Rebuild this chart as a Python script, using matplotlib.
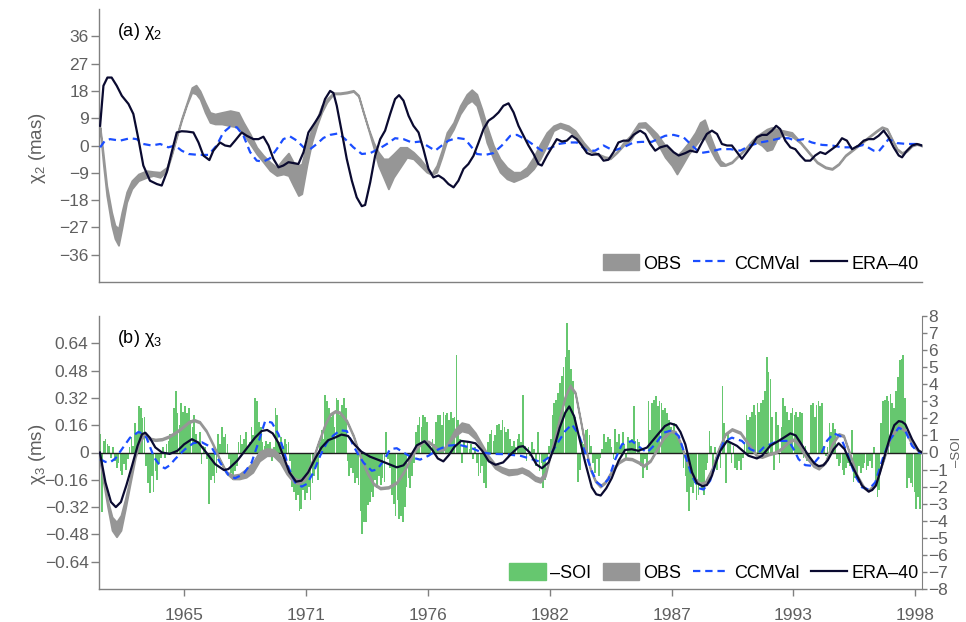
import numpy as np
import matplotlib
matplotlib.use("Agg")
import matplotlib.pyplot as plt
from matplotlib.patches import Patch
from matplotlib.lines import Line2D
from matplotlib.ticker import FuncFormatter

plt.rcParams['font.family'] = ['Liberation Sans', 'DejaVu Sans']
plt.rcParams['mathtext.fontset'] = 'custom'
plt.rcParams['mathtext.rm'] = 'Liberation Sans'

# ---------------- data: panel (a) chi2 (mas) ----------------
era_a = [(1961.21,6.5),(1961.36,19.7),(1961.54,22.4),(1961.73,22.4),(1961.96,19.7),(1962.19,16.4),
         (1962.49,13.7),(1962.71,10.4),(1962.94,2.1),(1963.16,-6.6),(1963.46,-11.6),(1963.77,-12.7),
         (1963.99,-13.2),(1964.22,-8.8),(1964.44,-2.2),(1964.67,4.3),(1964.89,4.7),(1965.12,4.6),
         (1965.42,4.3),(1965.65,1.0),(1965.87,-3.3),(1966.14,-4.8),(1966.32,-1.7),(1966.62,1.0),
         (1966.85,0.0),(1967.08,-0.3),(1967.3,1.6),(1967.6,4.3),(1967.83,3.2),(1968.13,2.1),
         (1968.36,2.1),(1968.58,2.9),(1968.81,0.0),(1969.03,-4.4),(1969.26,-7.2),(1969.48,-6.6),
         (1969.71,-5.5),(1969.93,-5.8),(1970.16,-6.1),(1970.39,-2.2),(1970.61,4.3),(1970.91,7.6),
         (1971.14,10.3),(1971.36,15.3),(1971.59,18.0),(1971.74,17.3),(1971.89,13.1),(1972.12,4.3),
         (1972.34,-4.4),(1972.57,-11.6),(1972.79,-17.1),(1973.02,-20.0),(1973.17,-19.6),(1973.4,-12.1),
         (1973.62,-3.4),(1973.85,2.1),(1974.07,4.9),(1974.3,10.4),(1974.52,15.3),(1974.7,16.6),
         (1974.9,14.8),(1975.13,9.8),(1975.35,6.5),(1975.58,4.3),(1975.8,-1.2),(1976.03,-7.7),
         (1976.25,-10.5),(1976.48,-9.9),(1976.71,-11.0),(1976.93,-12.7),(1977.16,-13.8),(1977.38,-11.6),
         (1977.61,-7.7),(1977.83,-6.1),(1978.06,-3.4),(1978.29,1.0),(1978.51,5.4),(1978.74,8.2),
         (1978.96,9.3),(1979.19,10.9),(1979.41,13.1),(1979.64,13.9),(1979.87,10.9),(1980.09,6.5),
         (1980.32,3.2),(1980.54,0.0),(1980.77,-2.8),(1980.99,-6.1),(1981.14,-6.6),(1981.37,-3.4),
         (1981.6,-0.6),(1981.82,2.1),(1982.05,1.3),(1982.27,1.6),(1982.5,3.2),(1982.72,2.1),
         (1982.95,0.0),(1983.18,-2.5),(1983.4,-3.1),(1983.7,-2.8),(1983.93,-5.0),(1984.15,-4.7),
         (1984.38,-2.2),(1984.6,1.0),(1984.83,1.6),(1985.06,1.6),(1985.28,3.5),(1985.58,4.9),
         (1985.81,3.8),(1986.04,0.5),(1986.26,-1.7),(1986.49,-0.6),(1986.79,0.0),(1987.09,-2.2),
         (1987.32,-3.3),(1987.62,-2.5),(1987.84,-1.7),(1988.14,-2.2),(1988.37,1.0),(1988.59,3.8),
         (1988.82,4.9),(1989.05,3.8),(1989.27,0.5),(1989.5,0.0),(1989.72,0.0),(1989.95,-2.2),
         (1990.17,-4.4),(1990.4,-2.2),(1990.62,0.0),(1990.85,2.7),(1991.08,3.5),(1991.3,3.5),
         (1991.53,4.9),(1991.72,6.5),(1991.9,5.4),(1992.13,1.6),(1992.36,-0.6),(1992.58,-1.2),
         (1992.81,-3.3),(1993.03,-5.0),(1993.26,-5.0),(1993.48,-3.3),(1993.71,-2.2),(1993.94,-2.8),
         (1994.24,-1.2),(1994.46,0.0),(1994.69,2.4),(1994.91,1.6),(1995.14,-1.2),(1995.44,0.0),
         (1995.67,1.6),(1995.89,2.1),(1996.12,2.1),(1996.34,3.2),(1996.57,4.9),(1996.79,2.7),
         (1997.02,-0.6),(1997.25,-3.3),(1997.4,-3.9),(1997.62,-1.7),(1997.85,0.0),(1998.07,0.5),
         (1998.3,0.0)]

ccm_a = [(1961.21,-0.6),(1961.43,1.6),(1961.66,2.1),(1962.11,1.6),(1962.56,2.4),(1962.86,2.1),
         (1963.16,0.5),(1963.54,0.0),(1963.92,0.5),(1964.29,-0.6),(1964.59,0.0),(1964.89,-1.7),
         (1965.2,-2.8),(1965.65,-3.1),(1966.1,-3.1),(1966.47,0.0),(1966.77,4.3),(1967.08,6.2),
         (1967.38,6.0),(1967.68,3.2),(1967.98,-2.2),(1968.28,-5.0),(1968.58,-5.3),(1968.88,-4.2),
         (1969.18,-1.2),(1969.48,2.1),(1969.78,3.0),(1970.09,1.6),(1970.39,-0.6),(1970.69,-1.2),
         (1970.99,0.5),(1971.29,2.5),(1971.59,3.5),(1971.97,4.0),(1972.27,2.1),(1972.64,-0.6),
         (1973.02,-2.8),(1973.4,-2.5),(1973.77,-1.2),(1974.15,0.5),(1974.52,2.4),(1974.9,2.1),
         (1975.28,1.0),(1975.65,1.3),(1975.95,0.0),(1976.33,-1.7),(1976.63,0.0),(1976.93,1.6),
         (1977.31,2.5),(1977.68,2.1),(1977.98,-0.6),(1978.21,-2.8),(1978.59,-3.1),(1978.96,-2.5),
         (1979.34,0.0),(1979.72,3.2),(1980.02,3.5),(1980.39,2.1),(1980.77,0.2),(1981.14,-1.7),
         (1981.52,-0.9),(1981.9,0.5),(1982.35,1.0),(1982.72,1.0),(1983.18,-1.7),(1983.55,-1.7),
         (1983.93,0.0),(1984.38,-1.7),(1984.83,-0.6),(1985.28,1.0),(1985.66,1.2),(1986.1,1.2),
         (1986.71,3.2),(1987.09,3.5),(1987.54,2.7),(1987.92,0.0),(1988.29,-2.5),(1988.74,-2.0),
         (1989.2,-1.2),(1989.65,-1.2),(1990.1,-1.7),(1990.55,0.0),(1991.0,1.0),(1991.45,1.6),
         (1991.9,2.4),(1992.28,2.4),(1992.58,1.6),(1992.96,2.1),(1993.33,1.0),(1993.79,0.2),
         (1994.24,0.0),(1994.69,-0.6),(1995.21,-0.6),(1995.67,0.2),(1996.12,-1.7),(1996.34,-2.0),
         (1996.57,0.0),(1996.79,2.1),(1997.17,0.8),(1997.62,0.5),(1998.07,0.5),(1998.3,0.0)]

# OBS band: (time, upper, lower)
obs_a = [(1961.21,6.0,5.0),(1961.36,-3.3,-6.6),(1961.51,-13.2,-16.5),(1961.73,-22.0,-26.3),
         (1961.88,-26.3,-30.7),(1962.04,-27.4,-32.9),(1962.19,-22.0,-27.4),(1962.41,-15.3,-18.7),
         (1962.64,-11.6,-14.3),(1962.94,-9.4,-11.6),(1963.31,-8.3,-10.5),(1963.61,-8.6,-9.9),
         (1963.92,-8.8,-10.5),(1964.22,-7.2,-8.3),(1964.44,-2.5,-3.1),(1964.67,3.5,2.9),
         (1964.89,9.0,8.4),(1965.12,14.0,13.4),(1965.35,19.1,17.5),(1965.54,19.9,17.0),
         (1965.72,18.0,15.3),(1965.95,14.2,10.9),(1966.17,10.9,7.6),(1966.4,10.4,7.1),
         (1966.7,10.9,7.1),(1967.08,11.5,6.5),(1967.45,10.9,6.0),(1967.68,7.6,3.8),
         (1967.98,3.8,0.5),(1968.28,-0.6,-2.8),(1968.58,-3.3,-5.5),(1968.88,-5.5,-8.3),
         (1969.18,-7.2,-9.9),(1969.48,-4.4,-9.4),(1969.71,-2.5,-9.9),(1969.93,-5.5,-13.2),
         (1970.16,-6.6,-16.5),(1970.31,-6.1,-15.9),(1970.54,1.0,-6.6),(1970.76,5.4,1.0),
         (1970.99,8.7,6.5),(1971.21,13.1,10.9),(1971.44,15.3,14.2),(1971.74,17.4,17.0),
         (1972.04,17.4,17.0),(1972.34,17.7,17.3),(1972.64,18.2,17.8),(1972.87,16.6,16.2),
         (1973.09,11.1,10.7),(1973.32,5.6,5.2),(1973.55,1.0,-0.6),(1973.77,-2.2,-6.6),
         (1974.0,-4.4,-10.5),(1974.22,-4.4,-14.3),(1974.45,-2.8,-10.5),(1974.75,-0.6,-7.2),
         (1975.05,-0.6,-3.9),(1975.35,-2.2,-4.4),(1975.65,-4.4,-6.6),(1975.95,-7.2,-8.8),
         (1976.18,-9.2,-9.6),(1976.4,-6.6,-8.8),(1976.63,-1.7,-3.9),(1976.86,4.3,1.6),
         (1977.16,7.6,5.4),(1977.46,13.1,10.4),(1977.76,16.9,13.7),(1977.98,18.4,14.8),
         (1978.21,16.9,13.1),(1978.44,12.0,7.6),(1978.66,6.5,1.0),(1978.96,0.0,-4.4),
         (1979.26,-4.4,-8.8),(1979.57,-7.2,-11.0),(1979.87,-8.8,-11.9),(1980.17,-8.8,-11.0),
         (1980.47,-7.2,-9.9),(1980.77,-3.9,-7.7),(1981.07,0.5,-4.4),(1981.37,4.3,0.0),
         (1981.67,6.5,4.9),(1981.97,7.4,6.0),(1982.35,6.5,4.9),(1982.65,4.9,3.2),
         (1983.03,1.0,-0.6),(1983.33,-1.5,-1.9),(1983.63,-2.6,-3.0),(1984.0,-3.7,-4.1),
         (1984.23,-4.0,-4.4),(1984.53,-2.0,-2.4),(1984.83,1.0,0.0),(1985.13,3.2,1.6),
         (1985.51,7.4,6.0),(1985.81,7.6,6.0),(1986.04,6.0,4.0),(1986.34,3.8,1.0),
         (1986.71,0.0,-3.9),(1987.01,-2.2,-6.6),(1987.24,-3.3,-9.4),(1987.47,-1.7,-6.6),
         (1987.77,1.0,-2.8),(1988.07,4.3,0.0),(1988.29,7.6,2.1),(1988.49,8.5,2.7),
         (1988.74,3.2,-1.2),(1988.97,-1.2,-4.4),(1989.2,-5.0,-6.6),(1989.42,-6.2,-6.6),
         (1989.72,-5.3,-5.7),(1990.02,-3.1,-3.5),(1990.32,-1.0,-1.4),(1990.62,1.6,0.5),
         (1990.85,3.2,1.0),(1991.08,4.3,0.0),(1991.3,5.4,-1.7),(1991.53,6.0,-1.2),
         (1991.75,5.4,2.1),(1992.06,4.9,3.8),(1992.43,4.3,3.0),(1992.81,1.2,0.8),
         (1993.18,-2.0,-2.4),(1993.56,-5.3,-5.7),(1993.94,-7.0,-7.4),(1994.24,-7.5,-7.9),
         (1994.54,-5.9,-6.3),(1994.84,-3.1,-3.5),(1995.21,-1.0,-1.4),(1995.59,1.2,0.8),
         (1995.97,3.4,3.0),(1996.27,5.1,4.7),(1996.49,6.2,5.8),(1996.72,5.6,5.2),
         (1996.94,2.3,1.9),(1997.17,-1.0,-1.4),(1997.4,-2.3,-2.7),(1997.62,-1.5,-1.9),
         (1997.85,0.2,-0.2),(1998.07,0.7,0.3),(1998.3,0.2,-0.2)]

# ---------------- data: panel (b) chi3 (ms) ----------------
era_b = [(1961.2,0.0),(1961.45,-0.175),(1961.7,-0.29),(1961.92,-0.32),(1962.15,-0.29),(1962.4,-0.19),
         (1962.65,-0.078),(1962.9,0.039),(1963.1,0.107),(1963.25,0.116),(1963.45,0.087),(1963.7,0.03),
         (1964.0,0.0),(1964.35,-0.008),(1964.7,0.01),(1965.0,0.048),(1965.35,0.078),(1965.65,0.058),
         (1966.0,0.0),(1966.4,-0.068),(1966.8,-0.103),(1967.0,-0.097),(1967.4,-0.048),(1967.8,0.019),
         (1968.2,0.087),(1968.5,0.126),(1968.75,0.132),(1969.0,0.112),(1969.25,0.058),(1969.5,-0.029),
         (1969.75,-0.116),(1970.05,-0.171),(1970.3,-0.165),(1970.6,-0.116),(1970.9,-0.039),(1971.2,0.029),
         (1971.5,0.072),(1971.8,0.087),(1972.1,0.105),(1972.4,0.097),(1972.7,0.045),(1973.0,0.005),
         (1973.4,-0.025),(1973.8,-0.045),(1974.2,-0.066),(1974.6,-0.087),(1974.9,-0.075),(1975.2,-0.025),
         (1975.5,0.042),(1975.85,0.066),(1976.2,0.015),(1976.45,-0.035),(1976.7,-0.052),(1976.95,-0.015),
         (1977.2,0.033),(1977.5,0.068),(1977.85,0.062),(1978.15,0.054),(1978.45,0.01),(1978.75,-0.052),
         (1979.05,-0.072),(1979.4,-0.058),(1979.75,-0.01),(1980.1,0.033),(1980.3,0.037),(1980.6,0.0),
         (1980.9,-0.07),(1981.15,-0.092),(1981.45,-0.058),(1981.7,0.029),(1981.95,0.145),(1982.2,0.233),
         (1982.38,0.27),(1982.6,0.213),(1982.85,0.078),(1983.1,-0.058),(1983.4,-0.204),(1983.6,-0.245),
         (1983.8,-0.252),(1984.05,-0.21),(1984.3,-0.15),(1984.6,-0.05),(1984.9,0.015),(1985.2,0.019),
         (1985.5,0.01),(1985.89,0.029),(1986.34,0.1),(1986.7,0.155),(1986.94,0.171),(1987.2,0.16),
         (1987.4,0.12),(1987.62,0.048),(1987.92,-0.116),(1988.15,-0.18),(1988.4,-0.198),(1988.6,-0.19),
         (1988.82,-0.136),(1989.0,-0.06),(1989.2,0.01),(1989.5,0.068),(1989.95,0.039),(1990.47,-0.019),
         (1990.85,-0.035),(1991.08,-0.019),(1991.45,0.039),(1991.83,0.068),(1992.1,0.09),(1992.36,0.112),
         (1992.6,0.1),(1992.8,0.06),(1993.18,-0.019),(1993.45,-0.065),(1993.64,-0.08),(1993.85,-0.075),
         (1994.05,-0.045),(1994.31,0.019),(1994.54,0.054),(1994.81,0.019),(1995.0,-0.04),(1995.22,-0.097),
         (1995.59,-0.194),(1995.89,-0.229),(1996.05,-0.22),(1996.22,-0.194),(1996.4,-0.12),(1996.57,-0.039),
         (1996.87,0.097),(1997.05,0.16),(1997.25,0.184),(1997.4,0.18),(1997.55,0.165),(1997.85,0.078),
         (1998.15,0.01),(1998.3,0.0)]

ccm_b = [(1961.2,-0.039),(1961.45,-0.055),(1961.66,-0.058),(1961.9,-0.035),(1962.19,0.019),(1962.56,0.087),
         (1962.94,0.12),(1963.15,0.11),(1963.31,0.085),(1963.5,0.02),(1963.65,-0.03),(1963.92,-0.078),
         (1964.14,-0.093),(1964.35,-0.075),(1964.59,-0.039),(1965.04,0.019),(1965.42,0.055),(1965.8,0.06),
         (1966.25,0.029),(1966.62,-0.058),(1967.0,-0.132),(1967.3,-0.151),(1967.68,-0.126),(1968.05,-0.058),
         (1968.35,0.058),(1968.66,0.185),(1968.96,0.175),(1969.26,0.107),(1969.48,0.019),(1969.71,-0.087),
         (1970.01,-0.175),(1970.31,-0.2),(1970.54,-0.184),(1970.84,-0.116),(1971.14,-0.019),(1971.44,0.058),
         (1971.74,0.1),(1972.04,0.13),(1972.34,0.126),(1972.64,0.04),(1972.85,-0.01),(1973.1,-0.06),
         (1973.47,-0.107),(1973.7,-0.1),(1974.0,-0.05),(1974.3,0.02),(1974.6,0.025),(1974.9,0.0),
         (1975.28,-0.029),(1975.65,-0.042),(1976.03,-0.019),(1976.48,0.019),(1976.9,0.04),(1977.4,0.045),
         (1977.9,0.03),(1978.44,0.0),(1978.9,-0.008),(1979.5,-0.01),(1980.2,-0.02),(1980.84,-0.045),
         (1981.14,-0.058),(1981.45,-0.029),(1981.82,0.048),(1982.2,0.126),(1982.5,0.165),(1982.8,0.107),
         (1983.1,0.0),(1983.4,-0.11),(1983.63,-0.175),(1983.85,-0.196),(1984.16,-0.155),(1984.46,-0.039),
         (1984.76,0.048),(1985.21,0.068),(1985.58,0.029),(1985.89,0.0),(1986.26,0.048),(1986.64,0.116),
         (1987.01,0.13),(1987.32,0.097),(1987.62,-0.019),(1987.92,-0.136),(1988.22,-0.209),(1988.44,-0.217),
         (1988.74,-0.165),(1989.05,-0.039),(1989.35,0.062),(1989.72,0.087),(1990.17,0.068),(1990.55,0.019),
         (1990.93,0.0),(1991.15,0.029),(1991.45,0.048),(1991.83,0.068),(1992.28,0.068),(1992.51,0.019),
         (1992.73,-0.039),(1993.03,-0.074),(1993.33,-0.078),(1993.71,-0.019),(1994.01,0.068),(1994.31,0.112),
         (1994.61,0.097),(1994.91,0.0),(1995.29,-0.136),(1995.59,-0.204),(1995.89,-0.217),(1996.19,-0.175),
         (1996.57,-0.019),(1996.87,0.078),(1997.25,0.145),(1997.55,0.126),(1997.85,0.039),(1998.15,0.0),
         (1998.3,0.0)]

obs_b = [(1961.16,0.0,-0.02),(1961.35,-0.14,-0.17),(1961.55,-0.28,-0.32),(1961.75,-0.378,-0.456),
         (1961.95,-0.407,-0.494),(1962.15,-0.368,-0.456),(1962.35,-0.27,-0.33),(1962.55,-0.155,-0.194),
         (1962.8,0.0,-0.029),(1963.0,0.078,0.058),(1963.2,0.11,0.1),(1963.45,0.086,0.076),
         (1963.7,0.079,0.069),(1964.0,0.083,0.073),(1964.3,0.098,0.088),(1964.6,0.121,0.111),
         (1964.9,0.15,0.14),(1965.2,0.183,0.173),(1965.45,0.195,0.185),(1965.7,0.183,0.173),
         (1966.0,0.131,0.121),(1966.3,0.053,0.043),(1966.6,-0.034,-0.044),(1966.9,-0.111,-0.121),
         (1967.2,-0.132,-0.155),(1967.5,-0.126,-0.155),(1967.8,-0.097,-0.145),(1968.1,-0.058,-0.116),
         (1968.4,0.005,-0.05),(1968.73,0.023,-0.019),(1969.03,0.019,-0.019),(1969.33,-0.019,-0.058),
         (1969.63,-0.087,-0.126),(1969.94,-0.145,-0.175),(1970.16,-0.159,-0.184),(1970.46,-0.136,-0.159),
         (1970.76,-0.053,-0.063),(1971.06,0.063,0.053),(1971.36,0.17,0.16),(1971.59,0.228,0.218),
         (1971.82,0.247,0.237),(1972.04,0.238,0.228),(1972.34,0.189,0.179),(1972.64,0.102,0.092),
         (1972.94,-0.014,-0.024),(1973.25,-0.111,-0.121),(1973.55,-0.179,-0.189),(1973.85,-0.204,-0.214),
         (1974.22,-0.199,-0.209),(1974.6,-0.17,-0.18),(1974.9,-0.111,-0.121),(1975.2,-0.034,-0.044),
         (1975.5,0.034,0.024),(1975.8,0.071,0.061),(1976.03,0.067,0.057),(1976.18,0.053,0.043),
         (1976.48,0.02,0.01),(1976.71,0.024,0.014),(1976.93,0.063,0.053),(1977.23,0.136,0.097),
         (1977.53,0.175,0.126),(1977.83,0.165,0.116),(1978.14,0.116,0.081),(1978.44,0.048,0.023),
         (1978.74,-0.019,-0.043),(1979.04,-0.068,-0.093),(1979.34,-0.087,-0.116),(1979.64,-0.1,-0.132),
         (1980.02,-0.097,-0.126),(1980.24,-0.089,-0.116),(1980.54,-0.107,-0.136),(1980.84,-0.14,-0.165),
         (1981.07,-0.151,-0.175),(1981.3,-0.116,-0.14),(1981.52,-0.014,-0.024),(1981.75,0.102,0.092),
         (1981.97,0.218,0.208),(1982.2,0.335,0.325),(1982.42,0.397,0.387),(1982.65,0.354,0.344),
         (1982.88,0.199,0.189),(1983.1,0.044,0.034),(1983.33,-0.092,-0.102),(1983.55,-0.16,-0.17),
         (1983.78,-0.193,-0.203),(1984.0,-0.17,-0.18),(1984.31,-0.102,-0.112),(1984.61,-0.053,-0.063),
         (1984.91,-0.03,-0.04),(1985.21,-0.034,-0.044),(1985.51,-0.053,-0.063),(1985.74,-0.073,-0.083),
         (1986.04,-0.043,-0.053),(1986.34,0.024,0.014),(1986.64,0.092,0.082),(1986.94,0.131,0.121),
         (1987.17,0.125,0.115),(1987.39,0.063,0.053),(1987.69,-0.053,-0.063),(1987.99,-0.14,-0.15),
         (1988.29,-0.179,-0.189),(1988.52,-0.17,-0.18),(1988.82,-0.092,-0.102),(1989.12,0.024,0.014),
         (1989.42,0.112,0.102),(1989.72,0.141,0.131),(1990.1,0.121,0.111),(1990.47,0.053,0.043),
         (1990.85,-0.015,-0.025),(1991.08,-0.02,-0.03),(1991.38,-0.005,-0.015),(1991.68,0.005,-0.005),
         (1991.98,0.03,0.02),(1992.28,0.068,0.058),(1992.51,0.081,0.071),(1992.73,0.053,0.043),
         (1993.03,-0.014,-0.024),(1993.41,-0.073,-0.083),(1993.64,-0.088,-0.098),(1993.94,-0.053,-0.063),
         (1994.24,0.053,0.043),(1994.54,0.112,0.102),(1994.76,0.102,0.092),(1995.07,-0.014,-0.024),
         (1995.37,-0.131,-0.141),(1995.67,-0.199,-0.209),(1995.89,-0.218,-0.228),(1996.19,-0.179,-0.189),
         (1996.57,-0.034,-0.044),(1996.87,0.092,0.082),(1997.25,0.16,0.15),(1997.55,0.131,0.121),
         (1997.85,0.053,0.043),(1998.15,0.015,0.005),(1998.3,0.005,-0.005)]

# -SOI, monthly from 1961.21
soi_start = 1961.208
neg_soi = [
    1.1, -3.5, 0.7, 0.8, 0.5, 0.4, -0.3, 0.3, -0.5, -0.9, -0.6, -1.1,
    -1.3, -0.7, -1.0, -0.4, 0.3, 0.9, 0.4, 1.7, 1.1, 2.7, 2.6, 2.0,
    2.1, -0.8, -1.8, -2.4, -1.4, -2.3, -1.1, -1.6, -0.6, -0.3, 0.3, -0.3,
    0.5, 0.7, 1.1, 1.0, 2.6, 3.6, 2.3, 1.6, 2.9, 2.4, 2.7, 2.3,
    2.6, 1.9, 1.5, 2.2, 1.1, 0.6, 1.2, -0.7, 0.4, 0.3, -0.4, -3.0,
    -1.6, -1.4, -1.8, -1.2, 1.1, 0.5, 1.5, 0.9, 1.1, 0.5, -0.4, -1.2,
    -1.6, -1.1, -0.8, 0.6, 1.0, 0.5, 0.8, 1.2, 0.3, 0.6, 1.5, 1.0,
    3.2, 3.0, 1.8, 1.5, 0.6, 0.4, 0.7, 0.5, 0.6, -0.5, 0.3, 2.6,
    2.2, 0.6, 0.9, 0.4, 0.8, 0.5, 0.6, -0.5, -2.0, -2.3, -2.8, -2.5,
    -3.4, -3.3, -2.2, -2.8, -2.4, -2.0, -2.8, -1.8, -1.4, -0.8, -1.6, 0.6,
    1.3, 0.8, 3.35, 3.0, 2.6, 2.1, 2.4, 1.5, 3.2, 3.1, 2.2, 2.8,
    3.2, 2.6, -0.5, -1.4, -0.9, -1.2, -1.8, -1.5, -1.9, -3.4, -4.8, -4.1,
    -4.1, -3.1, -2.9, -2.3, -2.6, -1.6, -2.1, -1.4, -1.9, -1.5, -1.7, 1.2,
    -0.4, -0.9, -2.5, -3.0, -3.7, -2.8, -3.9, -3.7, -4.1, -3.2, -2.0, -1.5,
    -2.1, -1.4, -0.6, 1.2, 1.6, 2.1, 1.5, 2.2, 2.1, 1.8, 0.6, 0.4,
    0.8, 0.5, 1.8, 2.2, 2.2, 1.6, 2.4, 2.2, 2.3, 1.9, 2.4, 2.0,
    2.1, 5.7, 1.9, 0.8, -0.6, 0.6, 0.4, 0.7, 0.2, 0.5, -0.4, 0.3,
    -0.6, -1.4, -1.2, -0.8, -1.8, -2.1, 0.6, 1.1, 1.3, 0.7, 1.0, 1.6,
    1.65, 1.3, 1.9, 1.5, 1.2, 1.4, 0.8, 0.4, 0.7, 0.3, 0.8, 1.1,
    0.6, 3.35, 0.4, -0.5, 0.3, -0.2, 0.6, 0.2, -0.8, 1.2, -1.1, -0.6,
    -2.1, -1.6, -0.3, 0.4, 0.8, 2.2, 2.9, 3.1, 3.5, 4.1, 4.5, 5.0,
    5.6, 7.6, 6.0, 4.9, 4.2, 2.1, 1.2, -1.7, -1.0, 0.6, 0.5, 1.3,
    1.35, 1.0, 0.4, -0.6, -1.2, -0.4, -1.4, -0.3, 0.2, 1.07, 0.6, 0.9,
    0.8, 0.3, -0.4, 1.35, 0.6, 1.1, 0.3, 1.2, 0.5, -0.3, 0.9, 0.6,
    0.8, 2.7, 0.7, 0.8, 0.6, -0.8, -1.5, -0.4, -1.0, 3.0, 1.3, 2.9,
    3.1, 3.3, 2.7, 3.0, 2.9, 2.5, 2.6, 2.3, 1.9, 1.5, 1.3, 1.7,
    1.2, 0.9, 0.6, 0.2, -0.9, -1.4, -2.3, -3.4, -2.0, -2.4, -1.8, -2.8,
    -2.5, -1.7, -2.2, -2.5, -1.0, -0.6, 1.26, 0.4, -0.8, 0.3, -1.0, 0.2,
    -0.9, 3.9, 1.7, -1.8, 1.2, 0.6, -0.6, 0.4, -0.9, -1.0, -0.5, -1.0,
    -0.3, 0.6, 2.2, 1.9, 2.1, 2.4, 2.8, 2.2, 2.9, 2.4, 2.9, 3.1,
    3.6, 5.6, 4.7, 4.3, 2.1, -1.0, 2.4, 1.6, -0.6, 1.5, 3.2, 2.7,
    2.4, 1.9, 2.3, 2.6, 2.2, 2.4, 2.1, 2.4, 2.3, -0.3, 0.4, -0.5,
    -0.4, 2.8, 2.9, 2.1, 2.8, 3.0, 2.7, 2.9, 0.4, -0.2, 0.3, 1.7,
    1.2, 1.7, 1.4, -0.4, -0.8, -0.6, -1.0, -1.3, -0.9, -0.6, -0.8, 1.3,
    -1.7, -1.5, -1.2, -0.8, -1.2, -0.9, -0.6, -1.0, -0.8, -0.5, -0.9, 0.3,
    -1.7, -2.6, -2.2, 1.7, 3.0, 3.1, 3.3, 3.0, 3.4, 2.9, 2.6, 3.6,
    4.4, 5.4, 5.5, 5.7, 3.2, -2.1, -1.5, -1.8, -2.0, -2.3, -3.3, -2.6,
    -3.3]

xticks = [1965, 1970.5, 1976, 1981.5, 1987, 1992.5, 1998]
xtick_labels = ['1965', '1971', '1976', '1982', '1987', '1993', '1998']

# ---------------- styles ----------------
C_OBS = '#969696'
C_CCM = '#1a4dff'
C_ERA = '#0a0a30'
C_SOI = '#66c76f'
C_AX = '#808080'
C_TXT = '#5f5f5f'
DASH = (0, (3.3, 2.2))
FS_TICK = 12.5
FS_LEG = 13

fig = plt.figure(figsize=(9.66, 6.22), dpi=100)
W, H = 966.0, 622.0
ax_a = fig.add_axes([99/W, 1-282/H, 823/W, 273/H])
ax_b = fig.add_axes([99/W, 1-589/H, 823/W, 273/H])
XL = (1961.16, 1998.3)

def unzip2(p):
    a = np.array(p)
    return a[:, 0], a[:, 1]

def unzip3(p):
    a = np.array(p)
    return a[:, 0], a[:, 1], a[:, 2]

def style_axis(ax):
    for s in ['top', 'right']:
        ax.spines[s].set_visible(False)
    for s in ['left', 'bottom']:
        ax.spines[s].set_color(C_AX)
        ax.spines[s].set_linewidth(1.0)
    ax.tick_params(axis='y', direction='out', length=6, width=1.0, color=C_AX,
                   labelcolor=C_TXT, labelsize=FS_TICK, pad=1.5)
    ax.set_xlim(*XL)

# ---- panel (a)
style_axis(ax_a)
ax_a.set_ylim(-45, 45)
ax_a.set_yticks(np.arange(-36, 37, 9))
ax_a.tick_params(axis='x', length=0, labelbottom=False)
t, hi, lo = unzip3(obs_a)
ax_a.fill_between(t, lo, hi, facecolor=C_OBS, edgecolor=C_OBS, linewidth=1.3, zorder=2)
t, v = unzip2(ccm_a)
ax_a.plot(t, v, color=C_CCM, lw=1.6, ls=DASH, zorder=3)
t, v = unzip2(era_a)
ax_a.plot(t, v, color=C_ERA, lw=1.6, zorder=4)
ax_a.text(0.022, 0.919, r'(a) χ$\mathregular{_2}$', transform=ax_a.transAxes,
          fontsize=13, va='center', ha='left', color='black')

h_obs = Patch(facecolor=C_OBS, edgecolor=C_OBS)
h_ccm = Line2D([], [], color=C_CCM, lw=1.6, ls=DASH)
h_era = Line2D([], [], color=C_ERA, lw=1.6)
h_soi = Patch(facecolor=C_SOI, edgecolor=C_SOI)
leg_kw = dict(frameon=False, fontsize=FS_LEG, handlelength=2.0, handleheight=1.0,
              handletextpad=0.25, columnspacing=0.65, borderpad=0, borderaxespad=0)
ax_a.legend([h_obs, h_ccm, h_era], ['OBS', 'CCMVal', 'ERA–40'], ncol=3,
            loc='center right', bbox_to_anchor=(0.9964, 0.068), **leg_kw)

# ---- panel (b)
ax2 = ax_b.twinx()
ax_b.set_zorder(ax2.get_zorder() + 1)
ax_b.patch.set_visible(False)
style_axis(ax_b)
ax_b.set_ylim(-0.8, 0.8)
ax_b.set_yticks([-0.64, -0.48, -0.32, -0.16, 0, 0.16, 0.32, 0.48, 0.64])
ax_b.yaxis.set_major_formatter(FuncFormatter(
    lambda v, p: '0' if abs(v) < 1e-9 else ('%.2f' % v).replace('-', '\u2212')))
ax_b.set_xticks(xticks)
ax_b.set_xticklabels(xtick_labels)
ax_b.tick_params(axis='x', direction='out', length=5, width=1.0, color=C_AX,
                 labelcolor=C_TXT, labelsize=FS_TICK, pad=8.5)

for s in ['top', 'left', 'bottom']:
    ax2.spines[s].set_visible(False)
ax2.spines['right'].set_color(C_AX)
ax2.set_ylim(-8, 8)
ax2.set_yticks(np.arange(-8, 9, 1))
ax2.tick_params(axis='y', direction='out', length=3.5, width=1.0, color=C_AX,
                labelcolor=C_TXT, labelsize=FS_TICK, pad=1)
ax2.set_xlim(*XL)
t_soi = soi_start + np.arange(len(neg_soi)) / 12.0
ax2.bar(t_soi, neg_soi, width=0.078, color=C_SOI, linewidth=0)

ax_b.axhline(0, color='#1e1e1e', lw=1.0, zorder=1.5)
t, hi, lo = unzip3(obs_b)
ax_b.fill_between(t, lo, hi, facecolor=C_OBS, edgecolor=C_OBS, linewidth=1.3, zorder=2)
t, v = unzip2(ccm_b)
ax_b.plot(t, v, color=C_CCM, lw=1.6, ls=DASH, zorder=3)
t, v = unzip2(era_b)
ax_b.plot(t, v, color=C_ERA, lw=1.6, zorder=4)
ax_b.text(0.022, 0.919, r'(b) χ$\mathregular{_3}$', transform=ax_b.transAxes,
          fontsize=13, va='center', ha='left', color='black')
ax_b.legend([h_soi, h_obs, h_ccm, h_era], ['–SOI', 'OBS', 'CCMVal', 'ERA–40'], ncol=4,
            loc='center right', bbox_to_anchor=(0.9964, 0.06), **leg_kw)

fig.text(38/W, 1-148/H, r'χ$\mathregular{_2}$ (mas)', rotation=90, ha='center', va='center',
         color=C_TXT, fontsize=13.5)
fig.text(38/W, 1-454/H, r'χ$\mathregular{_3}$ (ms)', rotation=90, ha='center', va='center',
         color=C_TXT, fontsize=13.5)
fig.text(957/W, 1-452/H, '–SOI', rotation=90, ha='center', va='center',
         color=C_TXT, fontsize=9.5)

fig.savefig('out.png', dpi=100)
